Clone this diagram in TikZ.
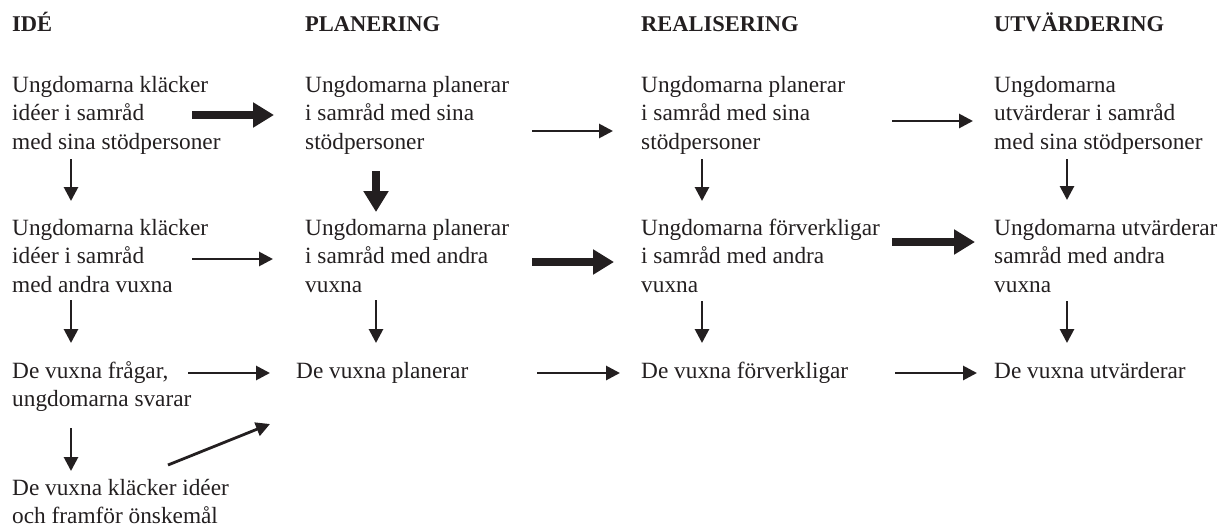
\documentclass[tikz,border=0pt]{standalone}
\usepackage{fontspec}
\setmainfont{Liberation Serif}
\usetikzlibrary{arrows.meta}
\definecolor{ink}{HTML}{231F20}
\begin{document}
\begin{tikzpicture}[x=1pt,y=-1pt,
  txt/.style={anchor=north west, inner sep=0pt, align=left, text=ink,
    font=\fontsize{23.3}{28.5}\selectfont},
  phase/.style={anchor=base west, inner sep=0pt, text=ink,
    font=\fontsize{22.5}{27}\selectfont\bfseries},
  arrowthin/.style={draw=ink, line width=2.8pt, -{Triangle[length=14pt,width=14pt]}},
  arrowthick/.style={draw=ink, line width=8.5pt, -{Triangle[length=21pt,width=24pt]}}]
\useasboundingbox (0,0) rectangle (1228,530);

% phase headings
\node[phase] (hIde)  at (12,31)  {IDÉ};
\node[phase] (hPlan) at (305,31) {PLANERING};
\node[phase] (hReal) at (641,31) {REALISERING};
\node[phase] (hUtv)  at (994,31) {UTVÄRDERING};

% idea column
\node[txt] (i1) at (12,72)  {\strut Ungdomarna kläcker\\idéer i samråd\\med sina stödpersoner};
\node[txt] (i2) at (12,215) {\strut Ungdomarna kläcker\\idéer i samråd\\med andra vuxna};
\node[txt] (i3) at (12,358) {\strut De vuxna frågar,\\ungdomarna svarar};
\node[txt] (i4) at (12,475) {\strut De vuxna kläcker idéer\\och framför önskemål};

% planning column
\node[txt] (p1) at (305,72)  {\strut Ungdomarna planerar\\i samråd med sina\\stödpersoner};
\node[txt] (p2) at (305,215) {\strut Ungdomarna planerar\\i samråd med andra\\vuxna};
\node[txt] (p3) at (296,358) {\strut De vuxna planerar};

% realisation column
\node[txt] (r1) at (641,72)  {\strut Ungdomarna planerar\\i samråd med sina\\stödpersoner};
\node[txt] (r2) at (641,215) {\strut Ungdomarna förverkligar\\i samråd med andra\\vuxna};
\node[txt] (r3) at (641,358) {\strut De vuxna förverkligar};

% evaluation column
\node[txt] (u1) at (994,72)  {\strut Ungdomarna\\utvärderar i samråd\\med sina stödpersoner};
\node[txt] (u2) at (994,215) {\strut Ungdomarna utvärderar\\samråd med andra\\vuxna};
\node[txt] (u3) at (994,358) {\strut De vuxna utvärderar};

% arrow end points
\coordinate (i1p1s) at (192,115); \coordinate (i1p1e) at (274,115);
\coordinate (i2p2s) at (192,259); \coordinate (i2p2e) at (273,259);
\coordinate (i3p3s) at (188,373); \coordinate (i3p3e) at (270,373);
\coordinate (i4p3s) at (168,465); \coordinate (i4p3e) at (270,424);
\coordinate (i1i2s) at (71,159);  \coordinate (i1i2e) at (71,201);
\coordinate (i2i3s) at (71,300);  \coordinate (i2i3e) at (71,343);
\coordinate (i3i4s) at (71,428);  \coordinate (i3i4e) at (71,471);

\coordinate (p1r1s) at (532,131); \coordinate (p1r1e) at (613,131);
\coordinate (p2r2s) at (532,262); \coordinate (p2r2e) at (614,262);
\coordinate (p3r3s) at (537,373); \coordinate (p3r3e) at (620,373);
\coordinate (p1p2s) at (376,171); \coordinate (p1p2e) at (376,212);
\coordinate (p2p3s) at (376,300); \coordinate (p2p3e) at (376,343);

\coordinate (r1u1s) at (892,121); \coordinate (r1u1e) at (973,121);
\coordinate (r2u2s) at (892,242); \coordinate (r2u2e) at (975,242);
\coordinate (r3u3s) at (895,373); \coordinate (r3u3e) at (977,373);
\coordinate (r1r2s) at (702,159); \coordinate (r1r2e) at (702,201);
\coordinate (r2r3s) at (702,301); \coordinate (r2r3e) at (702,343);

\coordinate (u1u2s) at (1067,159); \coordinate (u1u2e) at (1067,200);
\coordinate (u2u3s) at (1067,301); \coordinate (u2u3e) at (1067,343);

% horizontal connectors
\draw[arrowthick] (i1p1s) -- (i1p1e);
\draw[arrowthin]  (i2p2s) -- (i2p2e);
\draw[arrowthin]  (i3p3s) -- (i3p3e);
\draw[arrowthin]  (i4p3s) -- (i4p3e);
\draw[arrowthin]  (p1r1s) -- (p1r1e);
\draw[arrowthick] (p2r2s) -- (p2r2e);
\draw[arrowthin]  (p3r3s) -- (p3r3e);
\draw[arrowthin]  (r1u1s) -- (r1u1e);
\draw[arrowthick] (r2u2s) -- (r2u2e);
\draw[arrowthin]  (r3u3s) -- (r3u3e);

% vertical connectors
\draw[arrowthin]  (i1i2s) -- (i1i2e);
\draw[arrowthin]  (i2i3s) -- (i2i3e);
\draw[arrowthin]  (i3i4s) -- (i3i4e);
\draw[arrowthick] (p1p2s) -- (p1p2e);
\draw[arrowthin]  (p2p3s) -- (p2p3e);
\draw[arrowthin]  (r1r2s) -- (r1r2e);
\draw[arrowthin]  (r2r3s) -- (r2r3e);
\draw[arrowthin]  (u1u2s) -- (u1u2e);
\draw[arrowthin]  (u2u3s) -- (u2u3e);
\end{tikzpicture}
\end{document}
